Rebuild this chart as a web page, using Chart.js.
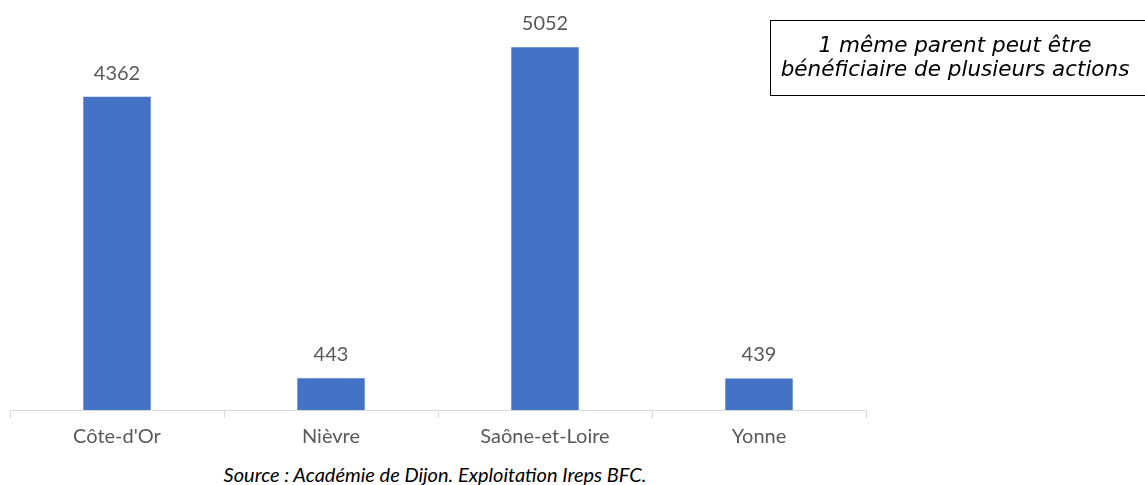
<!DOCTYPE html>
<html>
<head>
<meta charset="utf-8">
<script src="https://cdn.jsdelivr.net/npm/chart.js@4"></script>
<style>
  html, body { margin: 0; padding: 0; background: #fff; }
  body { width: 1145px; height: 485px; position: relative; overflow: hidden; }
  #wrap { position: absolute; left: 0; top: 0; width: 880px; height: 456px; }
  #note {
    position: absolute; left: 770px; top: 20px; width: 390px; height: 76px;
    border: 1px solid #000; box-sizing: border-box;
    font-family: "DejaVu Sans", Verdana, sans-serif; font-style: italic; font-size: 21.5px;
    color: #000; padding: 12px 0 0 0; line-height: 24px;
  }
  #note div { width: 368px; text-align: center; }
  #source {
    position: absolute; left: 0; width: 870px; top: 462px; text-align: center;
    font-family: Lato, "Open Sans", sans-serif; font-style: italic; font-size: 20px; color: #000;
    line-height: 24px;
  }
</style>
</head>
<body>
<div id="wrap"><canvas id="c"></canvas></div>
<div id="note"><div>1 même parent peut être<br>bénéficiaire de plusieurs actions</div></div>
<div id="source">Source : Académie de Dijon. Exploitation Ireps BFC.</div>
<script>
const categories = ["Côte-d'Or", "Nièvre", "Saône-et-Loire", "Yonne"];
const values = [4362, 443, 5052, 439];

const valueLabels = {
  id: 'valueLabels',
  afterDatasetsDraw(chart) {
    const ctx = chart.ctx;
    const meta = chart.getDatasetMeta(0);
    ctx.save();
    ctx.font = '20px Lato, "Open Sans", sans-serif';
    ctx.fillStyle = '#595959';
    ctx.textAlign = 'center';
    ctx.textBaseline = 'alphabetic';
    meta.data.forEach((bar, i) => {
      ctx.fillText(String(values[i]), bar.x, bar.y - 17);
    });
    ctx.restore();
  }
};

new Chart(document.getElementById('c'), {
  type: 'bar',
  data: {
    labels: categories,
    datasets: [{
      data: values,
      backgroundColor: '#4472C4',
      borderWidth: 0,
      categoryPercentage: 1,
      barPercentage: 0.315
    }]
  },
  options: {
    responsive: true,
    maintainAspectRatio: false,
    animation: false,
    layout: { padding: { left: 10, right: 14, top: 8, bottom: 0 } },
    plugins: { legend: { display: false }, tooltip: { enabled: false } },
    scales: {
      x: {
        offset: true,
        grid: { display: true, offset: true, drawOnChartArea: false, drawTicks: true, tickLength: 8, color: '#d9d9d9', lineWidth: 1 },
        border: { display: true, color: '#d9d9d9', width: 1 },
        ticks: { color: '#595959', font: { family: 'Lato, "Open Sans", sans-serif', size: 20 }, padding: 7 }
      },
      y: {
        display: false,
        min: 0,
        max: 5600
      }
    }
  },
  plugins: [valueLabels]
});
</script>
</body>
</html>
